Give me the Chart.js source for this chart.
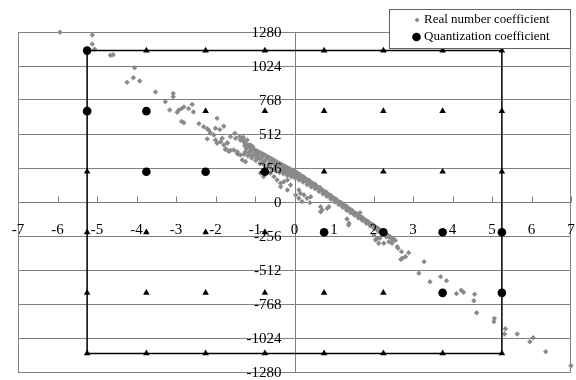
<!DOCTYPE html>
<html>
<head>
<meta charset="utf-8">
<script src="https://cdn.jsdelivr.net/npm/chart.js@4/dist/chart.umd.min.js"></script>
<style>
  html, body { margin: 0; padding: 0; background: #ffffff; }
  #wrap { width: 576px; height: 380px; }
</style>
</head>
<body>
<div id="wrap"><canvas id="c" width="576" height="380"></canvas></div>
<script>
// ---------- DATA ----------
const seriesLabels = ['Real number coefficient', 'Quantization coefficient'];

const xTickValues = [-7, -6, -5, -4, -3, -2, -1, 0, 1, 2, 3, 4, 5, 6, 7];
const xTickLabels = ['-7', '-6', '-5', '-4', '-3', '-2', '-1', '0', '1', '2', '3', '4', '5', '6', '7'];
const yTickValues = [1280, 1024, 768, 512, 256, 0, -256, -512, -768, -1024, -1280];
const yTickLabels = ['1280', '1024', '768', '512', '256', '0', '-256', '-512', '-768', '-1024', '-1280'];

// sparse real coefficients, upper-left tail
const realUpperTail = [
  [-5.94,1278],[-5.12,1257],[-5.12,1190],[-5.06,1150],[-4.66,1105],[-4.59,1109],[-4.05,1011],
  [-4.08,936],[-4.24,901],[-3.92,911],[-3.52,828],[-3.27,755],[-3.07,818],[-3.07,793],[-3.16,693],
  [-2.93,693],[-2.97,676],[-2.86,703],[-2.80,716],[-2.86,607],[-2.80,597],[-2.68,703],[-2.59,735],
  [-2.56,678],[-2.42,590],[-2.30,567],[-2.21,552],[-2.13,520],[-2.17,540],[-2.04,505],[-2.00,555],
  [-1.96,630],[-2.21,475],[-2.00,467],[-1.96,442],[-1.87,454],[-1.79,430],[-1.70,442],[-1.89,545],
  [-1.79,570],[-1.83,480],[-1.70,447],[-1.75,395],[-1.66,380],[-1.54,392],[-1.45,367],[-1.37,354],
  [-1.62,492],[-1.49,480],[-1.51,517],[-1.39,492],[-1.31,474],[-1.30,487],[-1.24,442],[-1.16,429],
  [-1.26,424],[-1.11,429],[-1.06,416],[-1.62,389],[-1.45,379],[-1.43,361],[-1.74,401],[-1.37,467],
  [-1.28,454],[-1.20,467]
];
// dense band, upper edge
const realBandTop = [
  [-1.25,428],[-1.18,418],[-1.12,410],[-1.05,400],[-0.98,390],[-0.92,381],[-0.85,370],[-0.78,359],
  [-0.72,349],[-0.65,337],[-0.58,326],[-0.52,316],[-0.45,304],[-0.38,292],[-0.32,282],[-0.25,271],
  [-0.18,260],[-0.12,250],[-0.05,241],[0.02,231],[0.08,219],[0.15,205],[0.22,191],[0.28,178],
  [0.35,164],[0.42,150],[0.48,137],[0.55,123],[0.62,108],[0.68,96],[0.75,81],[0.82,67],[0.88,54],
  [0.95,40],[1.02,26],[1.08,13],[1.15,-1],[1.22,-15],[1.28,-28],[1.35,-42],[1.42,-57],[1.48,-70],
  [1.55,-84],[1.62,-98],[1.68,-111],[1.75,-125],[1.82,-140],[1.88,-152],[1.95,-166],[2.02,-180],
  [2.08,-193],[2.15,-207],[2.22,-221],[2.28,-234],[2.35,-248],[2.42,-262],[2.48,-275],[2.55,-289]
];
// dense band, between upper edge and middle
const realBandUpperMid = [
  [-1.20,414],[-1.08,396],[-0.95,378],[-0.82,356],[-0.68,335],[-0.55,313],[-0.40,288],[-0.28,270],
  [-0.15,247],[-0.02,225],[0.12,206],[0.25,184],[0.38,160],[0.52,134],[0.65,108],[0.80,76],
  [0.92,50],[1.05,22],[1.18,-6],[1.32,-33],[1.45,-61],[1.58,-88],[1.72,-116],[1.85,-144],
  [1.98,-171],[2.12,-199],[2.25,-226],[2.38,-253],[2.52,-281]
];
// dense band, middle
const realBandMid = [
  [-1.22,400],[-1.12,385],[-1.02,370],[-0.92,352],[-0.82,336],[-0.72,320],[-0.62,305],[-0.52,290],
  [-0.42,272],[-0.32,258],[-0.22,243],[-0.12,228],[-0.02,215],[0.08,200],[0.18,185],[0.28,165],
  [0.38,148],[0.48,127],[0.58,108],[0.68,88],[0.78,66],[0.88,45],[0.98,24],[1.08,3],[1.18,-18],
  [1.28,-38],[1.38,-58],[1.48,-80],[1.58,-100],[1.68,-120],[1.78,-140],[1.88,-162],[1.98,-183],
  [2.08,-203],[2.18,-222],[2.28,-243],[2.38,-262],[2.48,-283],
  [-1.15,375],[-1.00,350],[-0.88,325],[-0.75,305],[-0.60,282],[-0.45,258],[-0.30,238],[-0.15,215],
  [0.00,198],[0.12,180],[0.25,160],[0.40,135],[0.55,113],[0.70,83],[0.85,55]
];
// dense band, between middle and lower edge
const realBandLowMid = [
  [-1.25,375],[-1.10,352],[-0.95,330],[-0.80,305],[-0.65,285],[-0.50,262],[-0.35,240],[-0.22,225],
  [-0.10,208],[0.05,190],[0.18,170],[0.32,150],[0.45,125],[0.60,100],[0.75,72],[0.90,40],[1.05,10],
  [1.20,-22],[1.35,-50],[1.50,-82],[1.65,-112],[1.80,-142],[1.95,-172],[2.10,-202],[2.25,-232],[2.40,-262]
];
// dense band, lower edge
const realBandLow = [
  [-1.28,360],[-1.18,348],[-1.08,330],[-0.98,312],[-0.88,290],[-0.78,280],[-0.68,262],[-0.58,248],
  [-0.48,234],[-0.38,222],[-0.28,212],[-0.18,200],[-0.08,190],[0.02,178],[0.12,165],[0.22,150],
  [0.32,132],[0.42,115],[0.52,100],[0.62,80],[0.72,60],[0.82,42],[0.92,20],[1.02,0],[1.12,-20],
  [1.22,-40],[1.32,-62],[1.42,-82],[1.52,-100],[1.62,-120],[1.72,-140],[1.82,-160],[1.92,-180],
  [2.02,-200],[2.12,-220],[2.22,-240],[2.32,-262]
];
// scattered below the band
const realScatter = [
  [-1.32,316],[-1.24,303],[-0.86,216],[-0.78,191],[-0.61,216],[-0.52,191],[-0.44,166],[-0.35,141],
  [-0.27,153],[-0.18,166],[-0.10,128],[-0.35,115],[-0.18,90],[0.03,53],[0.11,90],[0.15,65],[0.24,53],
  [0.32,28],[0.41,40],[0.11,28],[0.19,3],[0.39,-5],[0.66,-35],[0.66,-73],[0.87,-35],[0.70,-60],
  [0.83,-48],[1.33,-128],[1.37,-173],[1.38,-160],[1.66,-80]
];
// sparse real coefficients, lower-right tail
const realLowerTail = [
  [2.01,-248],[2.09,-273],[2.26,-311],[2.47,-311],[2.60,-336],[2.05,-286],[2.13,-311],[2.16,-273],
  [2.39,-299],[2.62,-349],[2.71,-374],[2.73,-424],[2.81,-412],[2.89,-382],[2.69,-432],[3.15,-537],
  [3.28,-449],[3.43,-600],[3.70,-562],[3.85,-592],[4.10,-690],[4.22,-665],[4.28,-680],[4.56,-695],
  [4.54,-743],[4.61,-834],[5.06,-876],[5.05,-901],[5.34,-954],[5.32,-994],[5.64,-994],[5.96,-1052],
  [6.04,-1022],[6.36,-1127],[7.00,-1233]
];

// quantization coefficients (filled circles)
const quantPoints = [
  [-5.25,1140],[-5.25,684],[-3.75,684],[-3.75,228],[-2.25,228],[-0.75,228],
  [0.75,-228],[2.25,-228],[3.75,-228],[5.25,-228],[3.75,-684],[5.25,-684]
];
// other quantization levels (triangles)
const levelPoints = [
  [-3.75,1140],[-2.25,1140],[-0.75,1140],[0.75,1140],[2.25,1140],[3.75,1140],[5.25,1140],
  [-2.25,684],[-0.75,684],[0.75,684],[2.25,684],[3.75,684],[5.25,684],
  [-5.25,228],[0.75,228],[2.25,228],[3.75,228],[5.25,228],
  [-5.25,-228],[-3.75,-228],[-2.25,-228],[-0.75,-228],
  [-5.25,-684],[-3.75,-684],[-2.25,-684],[-0.75,-684],[0.75,-684],[2.25,-684],
  [-5.25,-1140],[-3.75,-1140],[-2.25,-1140],[-0.75,-1140],[0.75,-1140],[2.25,-1140],[3.75,-1140],[5.25,-1140]
];
// boundary of the quantization range
const boundaryPoints = [[-5.25,1140],[5.25,1140],[5.25,-1140],[-5.25,-1140],[-5.25,1140]];

// ---------- CHART ----------
const toXY = arr => arr.map(p => ({x: p[0], y: p[1]}));
const realPoints = [].concat(realUpperTail, realBandTop, realBandUpperMid, realBandMid,
                             realBandLowMid, realBandLow, realScatter, realLowerTail);

const FONT = "'Liberation Serif', 'Times New Roman', serif";
Chart.defaults.font.family = FONT;

const centerAxes = {
  id: 'centerAxes',
  beforeDatasetsDraw(chart) {
    const {ctx, chartArea: a, scales: {x, y}} = chart;
    ctx.save();
    ctx.strokeStyle = '#808080';
    ctx.lineWidth = 1;
    ctx.strokeRect(Math.round(a.left) + 0.5, Math.round(a.top) + 0.5,
                   Math.round(a.right - a.left) - 1, Math.round(a.bottom - a.top));
    const x0 = Math.round(x.getPixelForValue(0)) + 0.5;
    const y0 = Math.round(y.getPixelForValue(0)) + 0.5;
    ctx.beginPath();
    ctx.moveTo(x0, a.top); ctx.lineTo(x0, a.bottom);
    ctx.moveTo(a.left, y0); ctx.lineTo(a.right, y0);
    xTickValues.forEach(v => {
      const px = Math.round(x.getPixelForValue(v)) + 0.5;
      ctx.moveTo(px, y0 - 6); ctx.lineTo(px, y0);
    });
    ctx.stroke();
    ctx.restore();
  },
  afterDatasetsDraw(chart) {
    const {ctx, scales: {x, y}} = chart;
    const x0 = x.getPixelForValue(0);
    const y0 = y.getPixelForValue(0);
    ctx.save();
    ctx.fillStyle = '#000000';
    ctx.font = '15px ' + FONT;
    ctx.textBaseline = 'middle';
    ctx.textAlign = 'center';
    xTickValues.forEach((v, i) => {
      ctx.fillText(xTickLabels[i], x.getPixelForValue(v), y0 + 28);
    });
    ctx.textAlign = 'right';
    yTickValues.forEach((v, i) => {
      ctx.fillText(yTickLabels[i], x0 - 13, y.getPixelForValue(v) + 1);
    });
    ctx.restore();
  },
  afterDraw(chart) {
    const {ctx, chartArea: a} = chart;
    const bx = 389.5, by = 9.5, bw = Math.round(a.right) - 389 - 1, bh = 39;
    ctx.save();
    ctx.fillStyle = '#ffffff';
    ctx.fillRect(bx, by, bw, bh);
    ctx.strokeStyle = '#606060';
    ctx.lineWidth = 1;
    ctx.strokeRect(bx, by, bw, bh);
    // diamond marker
    ctx.fillStyle = '#8a8a8a';
    ctx.beginPath();
    ctx.moveTo(417, 17.5); ctx.lineTo(419.5, 20); ctx.lineTo(417, 22.5); ctx.lineTo(414.5, 20);
    ctx.closePath(); ctx.fill();
    // circle marker
    ctx.fillStyle = '#000000';
    ctx.beginPath();
    ctx.arc(416.5, 37, 4.3, 0, Math.PI * 2);
    ctx.fill();
    ctx.font = '13px ' + FONT;
    ctx.textBaseline = 'middle';
    ctx.textAlign = 'left';
    ctx.fillText(seriesLabels[0], 424, 20);
    ctx.fillText(seriesLabels[1], 424, 37);
    ctx.restore();
  }
};

new Chart(document.getElementById('c'), {
  type: 'scatter',
  data: {
    datasets: [
      {
        label: seriesLabels[0],
        data: toXY(realPoints),
        pointStyle: 'rectRot',
        pointRadius: 2.7,
        borderWidth: 0,
        backgroundColor: '#8a8a8a',
        borderColor: '#8a8a8a',
        clip: false,
        order: 3
      },
      {
        label: 'boundary',
        data: toXY(boundaryPoints),
        showLine: true,
        fill: false,
        borderColor: '#000000',
        borderWidth: 1.5,
        pointRadius: 0,
        tension: 0,
        clip: false,
        order: 2
      },
      {
        label: 'levels',
        data: toXY(levelPoints),
        pointStyle: 'triangle',
        pointRadius: 3.8,
        borderWidth: 0,
        backgroundColor: '#000000',
        borderColor: '#000000',
        clip: false,
        order: 1
      },
      {
        label: seriesLabels[1],
        data: toXY(quantPoints),
        pointStyle: 'circle',
        pointRadius: 4.3,
        borderWidth: 0,
        backgroundColor: '#000000',
        borderColor: '#000000',
        clip: false,
        order: 0
      }
    ]
  },
  options: {
    responsive: false,
    animation: false,
    devicePixelRatio: 1,
    layout: { padding: { left: 18, right: 5, top: 32, bottom: 8 } },
    plugins: { legend: { display: false }, tooltip: { enabled: false } },
    scales: {
      x: {
        type: 'linear', min: -7, max: 7, display: false,
        ticks: { stepSize: 1 }
      },
      y: {
        type: 'linear', min: -1280, max: 1280, display: true,
        ticks: { display: false, stepSize: 256 },
        grid: { color: '#808080', lineWidth: 1, drawTicks: false },
        border: { display: false }
      }
    }
  },
  plugins: [centerAxes]
});
</script>
</body>
</html>
